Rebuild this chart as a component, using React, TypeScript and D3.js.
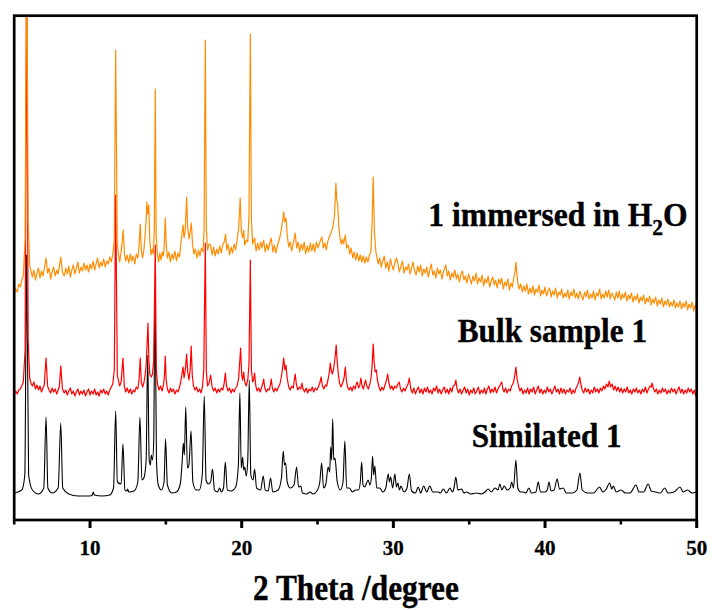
import React from 'react';
import * as d3 from 'd3';

const majorTicks = [10, 20, 30, 40, 50];
const minorTicks = [5, 15, 25, 35, 45];
const xTitle = '2 Theta /degree';

const simulated: [number, number][] = [
  [5.0,27],[5.5,30],[5.7,45],[5.82,265],[5.95,45],[6.2,30],[6.6,26],[6.95,32],[7.1,103],[7.22,32],[7.5,27],[7.9,32],[8.07,97],[8.2,32],[8.6,26],[9.2,24],[10.0,24],[10.15,25],[10.21,28],[10.28,25],[10.8,24],[11.3,25],[11.55,32],[11.69,109],[11.8,38],[12.05,36],[12.17,76],[12.3,30],[12.42,29],[12.48,31],[12.55,28],[12.9,29],[13.15,38],[13.29,103],[13.42,40],[13.55,42],[13.7,60],[13.8,165],[13.9,60],[13.98,55],[14.04,65],[14.12,60],[14.2,80],[14.28,229],[14.38,60],[14.5,35],[14.7,30],[14.88,38],[14.98,81],[15.1,35],[15.4,27],[15.7,28],[15.95,36],[16.08,60],[16.15,77],[16.22,65],[16.31,113],[16.42,52],[16.52,55],[16.66,89],[16.78,38],[17.0,30],[17.2,30],[17.4,45],[17.53,124],[17.65,40],[17.8,36],[17.95,38],[18.08,51],[18.2,30],[18.4,28],[18.55,32],[18.65,28],[18.8,32],[18.92,58],[19.05,30],[19.3,29],[19.6,33],[19.78,55],[19.88,127],[19.97,52],[20.06,63],[20.13,50],[20.2,53],[20.3,44],[20.4,60],[20.5,140],[20.6,45],[20.75,40],[20.85,51],[20.98,32],[21.25,30],[21.42,44],[21.55,30],[21.75,29],[21.9,42],[22.05,28],[22.4,30],[22.62,42],[22.74,69],[22.82,55],[22.9,57],[23.0,38],[23.2,32],[23.45,35],[23.62,53],[23.75,33],[23.9,34],[24.0,27],[24.3,26],[24.5,28],[24.7,26],[25.0,30],[25.15,38],[25.27,57],[25.4,32],[25.55,36],[25.7,53],[25.8,48],[25.87,73],[25.93,60],[26.0,101],[26.07,60],[26.15,62],[26.3,38],[26.5,30],[26.68,38],[26.8,79],[26.92,32],[27.1,32],[27.3,28],[27.5,30],[27.7,30],[27.82,38],[27.91,58],[28.0,35],[28.1,33],[28.34,40],[28.45,35],[28.55,42],[28.63,64],[28.7,45],[28.78,54],[28.9,32],[29.1,32],[29.3,28],[29.5,32],[29.66,46],[29.74,38],[29.82,43],[29.95,32],[30.1,46],[30.2,33],[30.3,37],[30.4,30],[30.5,34],[30.7,28],[30.9,32],[31.05,46],[31.2,29],[31.45,27],[31.64,33],[31.8,27],[32.0,34],[32.2,28],[32.4,34],[32.6,28],[32.96,28],[33.1,27],[33.29,31],[33.5,27],[33.73,32],[33.9,28],[34.0,32],[34.12,43],[34.25,30],[34.5,31],[34.65,27],[34.83,28],[35.1,26],[35.49,27],[35.8,26],[36.05,28],[36.25,31],[36.45,28],[36.7,32],[36.9,30],[37.02,36],[37.15,30],[37.31,34],[37.5,30],[37.7,32],[37.8,38],[37.92,32],[38.08,60],[38.2,32],[38.4,28],[38.56,28],[38.75,27],[38.93,32],[39.1,27],[39.4,28],[39.55,38],[39.7,28],[40.0,28],[40.15,30],[40.26,38],[40.4,29],[40.6,30],[40.8,41],[40.95,31],[41.2,32],[41.4,27],[41.8,27],[42.1,30],[42.3,47],[42.45,30],[42.8,27],[43.2,27],[43.6,33],[43.8,28],[44.0,30],[44.26,37],[44.4,31],[44.5,34],[44.7,28],[45.0,30],[45.3,27],[45.6,27],[46.0,35],[46.2,28],[46.5,28],[46.8,36],[47.0,29],[47.3,28],[47.6,27],[47.9,32],[48.1,27],[48.5,28],[48.9,33],[49.1,28],[49.4,30],[49.7,27],[50.0,28]
];

const bulk: [number, number][] = [
  [5.0,125],[5.1,129],[5.2,126],[5.3,130],[5.4,131],[5.5,134],[5.6,138],[5.72,170],[5.82,560],[5.92,180],[6.02,142],[6.1,137],[6.2,134],[6.3,138],[6.4,131],[6.5,135],[6.6,130],[6.7,134],[6.8,128],[6.9,132],[6.98,135],[7.1,162],[7.2,134],[7.3,130],[7.4,127],[7.5,132],[7.6,128],[7.7,131],[7.8,126],[7.9,130],[7.98,134],[8.07,154],[8.18,131],
  [8.3,127],[8.4,130],[8.5,125],[8.6,129],[8.7,132],[8.8,126],[8.9,129],[9.0,124],[9.1,128],[9.2,131],[9.3,125],[9.4,129],[9.5,126],[9.6,130],[9.7,124],[9.8,128],[9.9,131],[10.0,125],[10.1,129],[10.2,126],[10.3,131],[10.4,125],[10.5,128],[10.6,124],[10.7,130],[10.8,127],[10.9,131],[11.0,126],[11.1,129],[11.2,125],[11.3,130],[11.4,133],[11.5,136],[11.6,150],[11.69,325],[11.8,145],[11.95,134],[12.05,138],
  [12.17,162],[12.26,134],[12.35,128],[12.45,132],[12.55,127],[12.65,131],[12.75,126],[12.85,130],[12.95,128],[13.05,133],[13.15,131],[13.23,140],[13.31,162],[13.38,138],[13.47,133],[13.55,137],[13.63,145],[13.7,155],[13.76,175],[13.82,197],[13.88,160],[13.95,145],[14.04,143],[14.12,146],[14.2,160],[14.3,275],[14.37,150],[14.45,136],[14.55,130],[14.65,134],[14.75,129],[14.85,136],[14.91,145],[14.96,164],[15.02,140],[15.1,131],[15.2,127],[15.3,132],[15.4,128],[15.5,131],[15.6,126],[15.7,130],[15.8,128],[15.9,133],[15.98,138],[16.06,146],[16.13,153],[16.2,142],[16.28,150],[16.37,166],[16.44,148],[16.52,140],[16.6,150],[16.67,174],[16.74,145],[16.82,134],[16.92,130],[17.02,133],[17.12,128],[17.22,131],[17.32,127],[17.42,134],[17.5,150],[17.6,277],[17.67,148],[17.75,134],[17.85,137],[17.95,145],[18.05,133],[18.15,129],[18.25,132],[18.35,127],[18.45,131],[18.55,128],[18.65,132],[18.75,130],[18.84,136],[18.92,147],[19.0,134],[19.1,129],[19.2,132],[19.3,127],[19.4,131],[19.5,128],[19.6,132],[19.7,134],[19.8,142],[19.93,172],[20.0,145],[20.06,140],[20.13,148],[20.2,138],[20.3,134],[20.4,140],[20.48,155],[20.57,260],[20.64,150],[20.72,138],[20.78,140],[20.85,147],[20.93,134],[21.02,129],[21.12,132],[21.22,128],[21.32,133],[21.4,137],[21.45,141],[21.52,132],[21.62,128],[21.72,131],[21.82,130],[21.9,136],[21.95,141],[22.02,132],[22.12,128],[22.22,132],[22.32,129],[22.42,133],[22.52,136],[22.6,142],[22.68,150],[22.77,162],[22.85,150],[22.92,155],[23.0,142],[23.1,133],[23.2,130],[23.3,134],[23.4,132],[23.47,140],[23.53,146],[23.6,136],[23.7,130],[23.8,133],[23.9,131],[23.97,137],[24.05,131],[24.15,128],[24.25,132],[24.35,127],[24.45,131],[24.55,129],[24.65,133],[24.75,128],[24.85,132],[24.95,130],[25.05,133],[25.15,137],[25.24,143],[25.32,134],[25.42,131],[25.52,135],[25.6,134],[25.7,141],[25.78,148],[25.84,157],[25.9,150],[25.97,146],[26.05,150],[26.12,158],[26.18,166],[26.23,175],[26.3,158],[26.37,146],[26.45,137],[26.55,133],[26.65,137],[26.75,142],[26.83,153],[26.9,140],[26.98,133],[27.08,130],[27.18,133],[27.28,129],[27.38,134],[27.48,131],[27.55,136],[27.62,138],[27.7,132],[27.78,134],[27.86,142],[27.94,134],[28.02,131],[28.1,136],[28.17,140],[28.25,134],[28.35,131],[28.45,136],[28.53,142],[28.6,155],[28.67,176],[28.73,158],[28.8,148],[28.88,150],[28.95,140],[29.05,133],[29.15,129],[29.25,133],[29.35,130],[29.45,135],[29.55,140],[29.62,146],[29.7,138],[29.8,131],[29.9,134],[30.0,130],[30.1,134],[30.2,132],[30.3,136],[30.39,138],[30.47,131],[30.57,128],[30.67,132],[30.77,129],[30.87,133],[30.97,136],[31.05,142],
  [31.15,131],[31.25,127],[31.35,132],[31.45,126],[31.55,130],[31.65,133],[31.75,127],[31.85,131],[31.95,126],[32.05,132],[32.15,128],[32.25,133],[32.35,127],[32.45,130],[32.55,126],[32.65,132],[32.75,129],[32.85,134],[32.95,127],[33.05,131],[33.15,126],[33.25,130],[33.35,133],[33.45,127],[33.55,131],[33.65,126],[33.75,132],[33.85,128],[33.95,134],[34.05,135],[34.12,140],[34.2,131],[34.3,127],[34.4,131],[34.5,126],[34.6,130],[34.7,133],[34.8,127],[34.9,131],[35.0,125],[35.1,130],[35.2,127],[35.3,132],[35.4,126],[35.5,129],[35.6,133],[35.7,126],[35.8,130],[35.9,127],[36.0,132],[36.1,126],[36.2,131],[36.3,134],[36.4,127],[36.5,131],[36.6,128],[36.7,133],[36.8,127],[36.9,131],[37.0,134],[37.07,136],[37.14,138],[37.22,131],[37.3,128],[37.4,132],[37.5,127],[37.6,131],[37.7,129],[37.8,134],[37.9,137],[37.98,142],[38.08,153],[38.16,141],[38.25,134],[38.35,129],[38.45,132],[38.55,126],[38.65,130],[38.75,127],[38.85,132],[38.95,126],[39.05,131],[39.15,128],[39.25,133],[39.35,126],[39.45,130],[39.55,134],[39.65,127],[39.75,131],[39.85,126],[39.95,130],[40.05,127],[40.15,133],[40.25,128],[40.35,131],[40.45,126],[40.55,130],[40.65,134],[40.75,128],[40.85,131],[40.95,126],[41.05,132],[41.15,127],[41.25,131],[41.35,126],[41.45,130],[41.55,128],[41.65,132],[41.75,126],[41.85,130],[41.95,127],[42.05,132],[42.15,135],[42.22,138],[42.29,143],[42.36,136],[42.45,130],[42.55,127],[42.65,132],[42.75,128],[42.85,131],[42.95,126],[43.05,130],[43.15,127],[43.25,133],[43.35,128],[43.45,131],[43.55,127],[43.65,132],[43.75,129],[43.85,134],[43.95,131],[44.05,136],[44.15,133],[44.24,139],[44.32,133],[44.42,136],[44.52,130],[44.62,134],[44.72,129],[44.82,133],[44.92,128],[45.02,132],[45.12,127],[45.22,131],[45.32,128],[45.42,133],[45.52,127],[45.62,130],[45.72,126],[45.82,131],[45.92,128],[46.02,132],[46.12,127],[46.22,130],[46.32,126],[46.42,131],[46.52,128],[46.62,133],[46.72,127],[46.82,131],[46.92,134],[47.0,133],[47.06,137],[47.14,132],[47.24,128],[47.34,131],[47.44,126],[47.54,130],[47.64,127],[47.74,132],[47.84,128],[47.94,131],[48.04,126],[48.14,130],[48.24,127],[48.34,132],[48.44,128],[48.54,131],[48.64,126],[48.74,130],[48.84,133],[48.94,127],[49.04,131],[49.14,126],[49.24,130],[49.34,127],[49.44,132],[49.54,128],[49.64,131],[49.74,126],[49.84,130],[49.94,124],[50.0,128]
];

const immersed: [number, number][] = [
  [5.0,226],[5.1,231],[5.2,228],[5.3,236],[5.4,233],[5.5,240],[5.6,244],[5.72,280],[5.82,600],[5.92,300],[6.02,255],[6.1,249],[6.2,243],[6.3,250],[6.4,240],[6.5,247],[6.6,252],[6.7,242],[6.8,249],[6.9,244],[6.98,251],[7.1,262],[7.2,247],[7.3,252],[7.4,241],[7.5,248],[7.6,253],[7.7,244],[7.8,250],[7.9,246],[7.98,254],[8.07,263],[8.18,248],
  [8.3,244],[8.4,252],[8.5,246],[8.6,254],[8.7,243],[8.8,250],[8.9,255],[9.0,246],[9.1,252],[9.2,258],[9.3,247],[9.4,253],[9.5,249],[9.6,257],[9.7,250],[9.8,255],[9.9,248],[10.0,256],[10.1,251],[10.2,259],[10.3,250],[10.4,256],[10.5,262],[10.6,252],[10.7,258],[10.8,254],[10.9,261],[11.0,253],[11.1,259],[11.2,256],[11.3,263],[11.4,258],[11.5,266],[11.6,280],[11.69,470],[11.8,275],[11.95,258],[12.05,268],
  [12.19,290],[12.27,266],[12.35,259],[12.45,265],[12.55,257],[12.65,266],[12.75,259],[12.85,264],[12.95,256],[13.05,266],[13.15,262],[13.22,272],[13.31,296],[13.38,270],[13.46,262],[13.55,270],[13.62,282],[13.7,300],[13.75,318],[13.81,306],[13.87,315],[13.94,280],[14.02,265],[14.1,271],[14.17,266],[14.24,290],[14.3,431],[14.36,285],[14.44,266],[14.52,258],[14.6,267],[14.68,260],[14.76,268],[14.84,264],[14.9,276],[14.96,302],[15.03,274],[15.1,262],[15.2,268],[15.3,258],[15.4,266],[15.5,261],[15.6,269],[15.7,259],[15.8,267],[15.9,263],[15.98,275],[16.05,285],[16.13,295],[16.2,282],[16.28,290],[16.37,323],[16.44,292],[16.52,281],[16.6,288],[16.68,297],[16.76,276],[16.85,266],[16.95,271],[17.05,262],[17.15,270],[17.25,264],[17.35,272],[17.45,268],[17.52,290],[17.6,480],[17.67,290],[17.75,270],[17.85,276],[17.95,275],[18.05,265],[18.15,273],[18.25,264],[18.35,271],[18.45,266],[18.55,274],[18.65,267],[18.75,275],[18.85,278],[18.94,286],[19.02,270],[19.1,276],[19.2,265],[19.3,273],[19.4,267],[19.5,276],[19.6,270],[19.7,280],[19.8,292],[19.9,322],[19.98,288],[20.06,282],[20.13,290],[20.2,275],[20.3,280],[20.4,278],[20.48,305],[20.57,486],[20.64,300],[20.72,276],[20.8,280],[20.85,282],[20.95,269],[21.05,277],[21.15,270],[21.25,278],[21.35,272],[21.45,280],[21.55,268],[21.65,276],[21.75,270],[21.85,277],[21.95,282],[22.05,268],[22.15,275],[22.25,267],[22.35,274],[22.45,279],[22.55,285],[22.65,294],[22.72,302],[22.77,308],[22.84,298],[22.92,302],[23.0,285],[23.1,273],[23.2,278],[23.3,269],[23.4,277],[23.47,282],[23.53,287],[23.62,272],[23.72,278],[23.82,268],[23.92,276],[24.02,270],[24.12,278],[24.22,266],[24.32,274],[24.42,268],[24.52,277],[24.62,269],[24.72,276],[24.82,268],[24.92,278],[25.02,272],[25.12,276],[25.2,280],[25.29,283],[25.38,272],[25.48,277],[25.58,270],[25.68,279],[25.78,283],[25.88,287],[25.96,290],[26.04,296],[26.12,305],[26.21,337],[26.27,320],[26.33,315],[26.4,295],[26.48,282],[26.56,276],[26.64,281],[26.72,276],[26.83,285],[26.92,272],[27.02,275],[27.12,266],[27.22,272],[27.32,262],[27.42,268],[27.52,260],[27.62,267],[27.72,259],[27.82,265],[27.92,258],[28.02,264],[28.12,257],[28.22,263],[28.32,258],[28.42,265],[28.52,268],[28.6,300],[28.67,343],[28.75,288],[28.85,268],
  [29.0,256],[29.1,262],[29.2,253],[29.3,259],[29.4,264],[29.5,252],[29.6,258],[29.7,249],[29.8,261],[29.9,255],[30.0,250],[30.1,257],[30.2,262],[30.28,258],[30.4,248],[30.5,254],[30.6,259],[30.7,247],[30.8,253],[30.9,250],[31.0,256],[31.1,246],[31.2,252],[31.3,258],[31.4,249],[31.5,245],[31.6,254],[31.7,248],[31.8,255],[31.9,244],[32.0,251],[32.1,247],[32.2,253],[32.3,243],[32.4,250],[32.5,256],[32.6,245],[32.7,249],[32.8,242],[32.9,252],[33.0,246],[33.1,250],[33.2,241],[33.3,248],[33.46,255],[33.55,244],[33.65,249],[33.75,240],[33.85,247],[33.95,243],[34.05,250],[34.15,241],[34.25,246],[34.35,238],[34.45,245],[34.55,249],[34.65,240],[34.75,244],[34.85,237],[34.95,246],[35.05,241],[35.15,236],[35.25,244],[35.35,239],[35.45,247],[35.55,236],[35.65,242],[35.75,238],[35.85,245],[35.95,234],[36.05,241],[36.15,237],[36.25,244],[36.35,233],[36.45,239],[36.55,243],[36.65,235],[36.75,240],[36.85,232],[36.95,241],[37.05,236],[37.15,242],[37.25,231],[37.35,238],[37.45,234],[37.55,241],[37.65,230],[37.75,237],[37.85,233],[37.95,243],[38.02,248],[38.08,258],[38.14,246],[38.22,236],[38.3,231],[38.4,236],[38.5,228],[38.6,234],[38.7,229],[38.8,236],[38.9,226],[39.0,232],[39.1,227],[39.2,234],[39.3,225],[39.4,231],[39.5,228],[39.6,235],[39.7,224],[39.8,230],[39.9,226],[40.0,233],[40.1,224],[40.2,229],[40.3,232],[40.4,223],[40.5,229],[40.6,225],[40.7,232],[40.8,222],[40.9,228],[41.0,225],[41.1,231],[41.2,222],[41.3,227],[41.4,223],[41.5,230],[41.6,221],[41.7,228],[41.8,224],[41.9,231],[42.0,222],[42.1,227],[42.2,221],[42.3,229],[42.4,224],[42.5,220],[42.6,228],[42.7,223],[42.8,230],[42.9,221],[43.0,226],[43.1,222],[43.2,229],[43.3,220],[43.4,227],[43.5,224],[43.6,231],[43.7,221],[43.8,226],[43.9,222],[44.0,229],[44.1,223],[44.2,230],[44.3,221],[44.4,227],[44.5,224],[44.6,220],[44.7,228],[44.8,222],[44.9,229],[45.0,220],[45.1,226],[45.2,222],[45.3,228],[45.4,219],[45.5,225],[45.6,221],[45.7,227],[45.8,218],[45.9,224],[46.0,220],[46.1,226],[46.2,217],[46.3,223],[46.4,219],[46.5,225],[46.6,216],[46.7,222],[46.8,218],[46.9,224],[47.0,215],[47.1,221],[47.2,217],[47.3,223],[47.4,214],[47.5,220],[47.6,216],[47.7,222],[47.8,213],[47.9,219],[48.0,215],[48.1,221],[48.2,213],[48.3,218],[48.4,214],[48.5,220],[48.6,212],[48.7,217],[48.8,213],[48.9,219],[49.0,211],[49.1,217],[49.2,213],[49.3,219],[49.4,210],[49.5,216],[49.6,212],[49.7,218],[49.8,209],[49.9,215],[50.0,211]
];

const W = 712;
const H = 610;
const left = 14.2, right = 696.7, top = 15.7, bottom = 520;

export default function App() {
  const x = d3.scaleLinear().domain([5, 50]).range([left, right]);
  const y = d3.scaleLinear().domain([0, 505]).range([bottom, 15]);
  const line = d3.line<[number, number]>().x(d => x(d[0])).y(d => y(d[1]));
  const smooth = d3.line<[number, number]>().x(d => x(d[0])).y(d => y(d[1])).curve(d3.curveMonotoneX);
  const font = '"Liberation Serif", "Times New Roman", serif';
  const textProps = { fontFamily: font, fontWeight: 'bold' as const, stroke: '#000', strokeWidth: 0.4 };
  return (
    <svg width={W} height={H} style={{ position: 'absolute', left: 0, top: 0, background: '#fff' }}>
      <defs>
        <clipPath id="plot">
          <rect x={left} y={top} width={right - left} height={bottom - top} />
        </clipPath>
      </defs>
      <g clipPath="url(#plot)" fill="none" strokeLinejoin="round">
        <path d={smooth(simulated) || ''} stroke="#000" strokeWidth={1.1} />
        <path d={line(bulk) || ''} stroke="#ff0000" strokeWidth={1.2} />
        <path d={line(immersed) || ''} stroke="#ff8c00" strokeWidth={1.2} />
      </g>
      <rect x={left} y={top} width={right - left} height={bottom - top} fill="none" stroke="#000" strokeWidth={2.7} />
      {majorTicks.map(t => (
        <line key={'M' + t} x1={x(t)} x2={x(t)} y1={bottom} y2={bottom + 8} stroke="#000" strokeWidth={3} />
      ))}
      {minorTicks.map(t => (
        <line key={'m' + t} x1={x(t)} x2={x(t)} y1={bottom} y2={bottom + 4.5} stroke="#000" strokeWidth={2.6} />
      ))}
      {majorTicks.map(t => (
        <text key={'L' + t} x={x(t)} y={555} textAnchor="middle" {...textProps} strokeWidth={0.3} fontSize={21}>{t}</text>
      ))}
      <text transform="translate(253,600) scale(0.895,1)" {...textProps} fontSize={35}>{xTitle}</text>
      <text transform="translate(428.3,225.7) scale(0.93,1)" {...textProps} fontSize={34}>
        1 immersed in H<tspan fontSize={23} dy={9}>2</tspan><tspan dy={-9}>O</tspan>
      </text>
      <text transform="translate(457.7,342) scale(0.92,1)" {...textProps} fontSize={34}>Bulk sample 1</text>
      <text transform="translate(471.7,446.7) scale(0.918,1)" {...textProps} fontSize={34}>Similated 1</text>
    </svg>
  );
}
